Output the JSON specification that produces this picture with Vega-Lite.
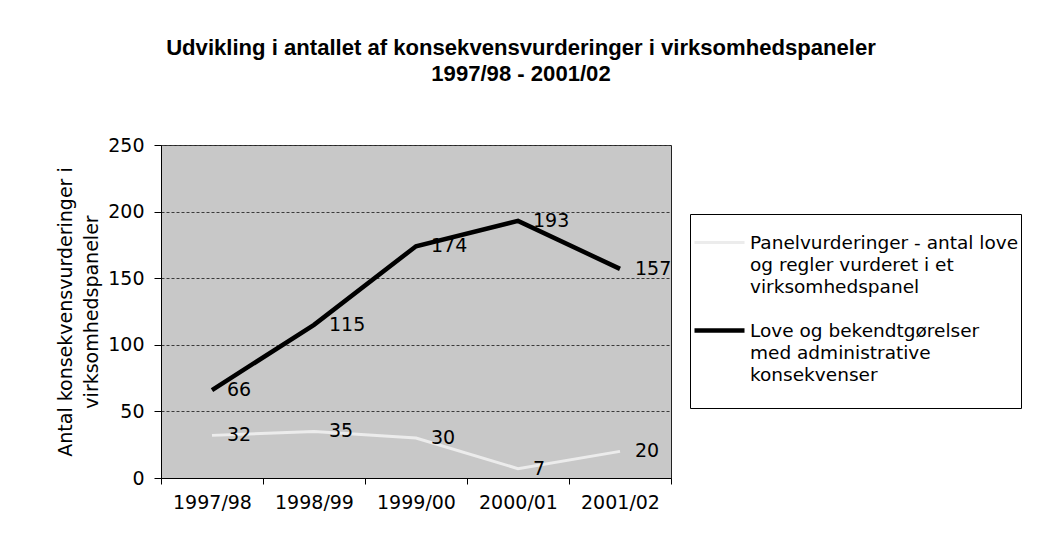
{
  "$schema": "https://vega.github.io/schema/vega-lite/v6.json",
  "width": 510,
  "height": 333,
  "autosize": {"type": "none"},
  "padding": {"left": 161, "top": 145, "right": 369, "bottom": 74},
  "background": "white",
  "title": {
    "text": ["Udvikling i antallet af konsekvensvurderinger i virksomhedspaneler", "1997/98 - 2001/02"],
    "font": "Liberation Sans",
    "fontSize": 22.1,
    "fontWeight": "bold",
    "lineHeight": 26,
    "color": "black",
    "anchor": "middle",
    "dx": 105,
    "offset": 50
  },
  "data": {
    "values": [
      {"year": "1997/98", "series": "Panelvurderinger - antal love og regler vurderet i et virksomhedspanel", "value": 32},
      {"year": "1998/99", "series": "Panelvurderinger - antal love og regler vurderet i et virksomhedspanel", "value": 35},
      {"year": "1999/00", "series": "Panelvurderinger - antal love og regler vurderet i et virksomhedspanel", "value": 30},
      {"year": "2000/01", "series": "Panelvurderinger - antal love og regler vurderet i et virksomhedspanel", "value": 7},
      {"year": "2001/02", "series": "Panelvurderinger - antal love og regler vurderet i et virksomhedspanel", "value": 20},
      {"year": "1997/98", "series": "Love og bekendtgørelser med administrative konsekvenser", "value": 66},
      {"year": "1998/99", "series": "Love og bekendtgørelser med administrative konsekvenser", "value": 115},
      {"year": "1999/00", "series": "Love og bekendtgørelser med administrative konsekvenser", "value": 174},
      {"year": "2000/01", "series": "Love og bekendtgørelser med administrative konsekvenser", "value": 193},
      {"year": "2001/02", "series": "Love og bekendtgørelser med administrative konsekvenser", "value": 157}
    ]
  },
  "encoding": {
    "x": {
      "field": "year",
      "type": "ordinal",
      "scale": {"type": "band", "paddingInner": 0, "paddingOuter": 0},
      "axis": {
        "title": null,
        "labelAngle": 0,
        "labelFont": "DejaVu Sans",
        "labelFontSize": 19,
        "labelColor": "black",
        "labelPadding": 9,
        "tickBand": "extent",
        "tickSize": 6,
        "tickColor": "black",
        "domainColor": "black",
        "grid": false
      }
    },
    "y": {
      "field": "value",
      "type": "quantitative",
      "scale": {"domain": [0, 250], "nice": false},
      "axis": {
        "values": [0, 50, 100, 150, 200, 250],
        "title": ["Antal konsekvensvurderinger i", "virksomhedspaneler"],
        "titleFont": "DejaVu Sans",
        "titleFontSize": 19,
        "titleFontWeight": "normal",
        "titleColor": "black",
        "titleLineHeight": 26,
        "titlePadding": 6,
        "labelFont": "DejaVu Sans",
        "labelFontSize": 19,
        "labelColor": "black",
        "labelPadding": 10,
        "tickSize": 7,
        "tickColor": "black",
        "domainColor": "black",
        "grid": true,
        "gridColor": "#3a3a3a",
        "gridDash": [3, 2],
        "gridWidth": 1
      }
    }
  },
  "layer": [
    {
      "mark": {"type": "line", "strokeCap": "butt", "strokeJoin": "miter"},
      "encoding": {
        "color": {
          "field": "series",
          "type": "nominal",
          "scale": {
            "domain": ["Panelvurderinger - antal love og regler vurderet i et virksomhedspanel", "Love og bekendtgørelser med administrative konsekvenser"],
            "range": ["#ececec", "#000000"]
          },
          "legend": {
            "title": null,
            "orient": "none",
            "legendX": 529,
            "legendY": 69,
            "symbolType": "stroke",
            "symbolSize": 2500,
            "symbolStrokeWidth": 4,
            "labelFont": "DejaVu Sans",
            "labelFontSize": 18.5,
            "labelColor": "black",
            "labelLimit": 400,
            "labelOffset": 3,
            "labelBaseline": "middle",
            "rowPadding": 7,
            "padding": 2,
            "strokeColor": "black",
            "fillColor": "white",
            "labelExpr": "datum.value == 'Love og bekendtgørelser med administrative konsekvenser' ? ['Love og bekendtgørelser', 'med administrative', 'konsekvenser', ''] : ['Panelvurderinger - antal love', 'og regler vurderet i et', 'virksomhedspanel']"
          }
        },
        "strokeWidth": {
          "field": "series",
          "type": "nominal",
          "scale": {
            "domain": ["Panelvurderinger - antal love og regler vurderet i et virksomhedspanel", "Love og bekendtgørelser med administrative konsekvenser"],
            "range": [3, 4.5]
          },
          "legend": null
        }
      }
    },
    {
      "mark": {"type": "text", "align": "left", "baseline": "middle", "dx": 15, "font": "DejaVu Sans", "fontSize": 19, "color": "black"},
      "encoding": {
        "text": {"field": "value", "type": "quantitative"}
      }
    }
  ],
  "config": {
    "view": {"fill": "#c8c8c8", "stroke": "#222222", "strokeWidth": 1},
    "style": {"guide-label": {"lineHeight": 22}}
  }
}
